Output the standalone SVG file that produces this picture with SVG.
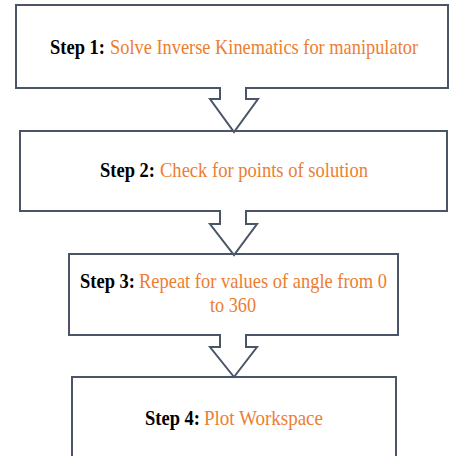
<svg xmlns="http://www.w3.org/2000/svg" width="452" height="456" viewBox="0 0 452 456">
  <style>
    .box { fill: #ffffff; stroke: #4a5567; stroke-width: 2; }
    .arrow-fill { fill: #ffffff; stroke: none; }
    .arrow-line { fill: none; stroke: #4a5567; stroke-width: 2; stroke-linejoin: miter; }
    text { font-family: "Liberation Serif", "Times New Roman", serif; font-size: 21px; }
    .lbl { font-weight: bold; fill: #000000; }
    .val { fill: #ed7d31; }
  </style>
  <rect width="452" height="456" fill="#ffffff"/>

  <!-- labels use a narrow horizontal scale (0.85) to get the condensed serif look -->
  <g id="step1">
    <rect class="box" x="16" y="5" width="432" height="83"/>
    <text class="lbl" transform="translate(50,54) scale(0.85,1)" textLength="64.7" lengthAdjust="spacingAndGlyphs">Step 1:</text>
    <text class="val" transform="translate(110,54) scale(0.85,1)" textLength="362.4" lengthAdjust="spacingAndGlyphs">Solve Inverse Kinematics  for manipulator</text>
  </g>

  <g id="step2">
    <rect class="box" x="20" y="131" width="427" height="80"/>
    <text class="lbl" transform="translate(100,177) scale(0.85,1)" textLength="64.7" lengthAdjust="spacingAndGlyphs">Step 2:</text>
    <text class="val" transform="translate(160,177) scale(0.85,1)" textLength="244.7" lengthAdjust="spacingAndGlyphs">Check for points of solution</text>
  </g>

  <g id="step3">
    <rect class="box" x="69" y="254" width="329" height="81"/>
    <text class="lbl" transform="translate(80,288) scale(0.85,1)" textLength="64.7" lengthAdjust="spacingAndGlyphs">Step 3:</text>
    <text class="val" transform="translate(139,288) scale(0.85,1)" textLength="291.8" lengthAdjust="spacingAndGlyphs">Repeat for values of angle from 0</text>
    <text class="val" transform="translate(210,312) scale(0.85,1)" textLength="54.1" lengthAdjust="spacingAndGlyphs">to 360</text>
  </g>

  <g id="step4">
    <rect class="box" x="72" y="377" width="324" height="90"/>
    <text class="lbl" transform="translate(145,425) scale(0.85,1)" textLength="64.7" lengthAdjust="spacingAndGlyphs">Step 4:</text>
    <text class="val" transform="translate(204,425) scale(0.85,1)" textLength="140" lengthAdjust="spacingAndGlyphs">Plot Workspace</text>
  </g>

  <g id="connectors">
    <!-- block arrow 1 -> 2 -->
    <polygon class="arrow-fill" points="221,87 245,87 245,99 257,99 234,131 211,99 221,99"/>
    <polyline class="arrow-line" points="220,88 220,99 210,99 234,132 258,99 246,99 246,88"/>
    <!-- block arrow 2 -> 3 -->
    <polygon class="arrow-fill" points="221,210 245,210 245,224 257,224 234,254 211,224 221,224"/>
    <polyline class="arrow-line" points="220,211 220,224 210,224 234,255 257,224 246,224 246,211"/>
    <!-- block arrow 3 -> 4 -->
    <polygon class="arrow-fill" points="221,334 245,334 245,347 257,347 234,376 211,347 221,347"/>
    <polyline class="arrow-line" points="220,335 220,347 210,347 234,377 257,347 246,347 246,335"/>
  </g>
</svg>
